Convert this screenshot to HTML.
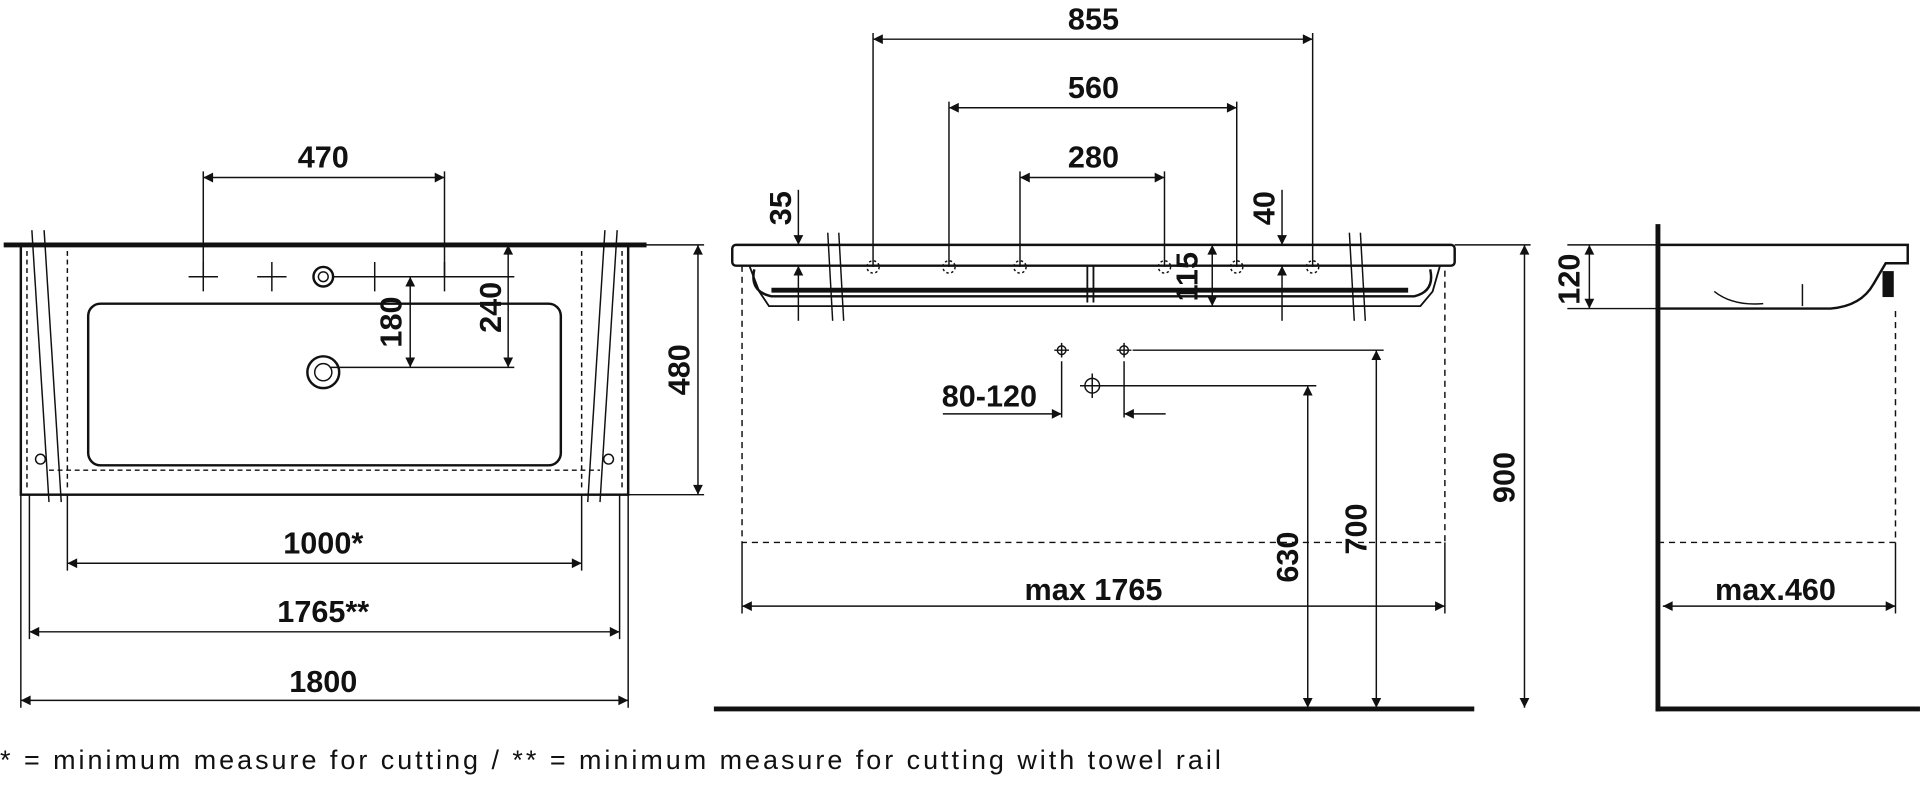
<!DOCTYPE html>
<html><head><meta charset="utf-8"><style>
html,body{margin:0;padding:0;background:#fff;width:1920px;height:791px;overflow:hidden}
svg{display:block}
text{font-family:"Liberation Sans",sans-serif;font-weight:bold;font-size:25px;fill:#111}
</style></head><body>
<svg width="1920" height="791" viewBox="0 0 1568 646" xmlns="http://www.w3.org/2000/svg">
<defs>
<marker id="a" viewBox="0 0 10 10" refX="10" refY="5" markerWidth="16" markerHeight="8" markerUnits="userSpaceOnUse" orient="auto-start-reverse"><path d="M0,0L10,5L0,10z" fill="#111"/></marker>
</defs>
<g stroke="#111" fill="none" stroke-width="1.2">
<line x1="3" y1="200" x2="528" y2="200" stroke-width="4"/>
<rect x="17" y="200" width="496" height="204" stroke-width="2"/>
<g stroke-dasharray="4,3">
<line x1="55" y1="205" x2="55" y2="400"/><line x1="475" y1="205" x2="475" y2="400"/>
<line x1="40" y1="384" x2="490" y2="384"/><line x1="22" y1="205" x2="22" y2="400"/><line x1="508" y1="205" x2="508" y2="400"/>
</g>
<rect x="72" y="248" width="386" height="132" rx="10" stroke-width="2"/>
<line x1="26" y1="188" x2="40" y2="410"/><line x1="36" y1="188" x2="50" y2="410"/>
<line x1="494" y1="188" x2="480" y2="410"/><line x1="504" y1="188" x2="490" y2="410"/>
<circle cx="33" cy="375" r="4"/><circle cx="497" cy="375" r="4"/>
<path d="M154,226h24M166,214v24M210,226h24M222,214v24M294,226h24M306,214v24M351,226h24M363,214v24"/>
<circle cx="264" cy="226" r="8" stroke-width="2"/><circle cx="264" cy="226" r="4"/>
<circle cx="264" cy="304" r="13" stroke-width="2"/><circle cx="264" cy="304" r="7"/>
<path d="M166,140v86M363,140v86"/>
<line x1="166" y1="145" x2="363" y2="145" marker-start="url(#a)" marker-end="url(#a)"/>
<path d="M272,226h148M270,300h150"/>
<line x1="335" y1="226" x2="335" y2="300" marker-start="url(#a)" marker-end="url(#a)"/>
<line x1="415" y1="200" x2="415" y2="300" marker-start="url(#a)" marker-end="url(#a)"/>
<path d="M513,200h62M513,404h62"/>
<line x1="570" y1="200" x2="570" y2="404" marker-start="url(#a)" marker-end="url(#a)"/>
<path d="M55,404v62M475,404v62M24,404v118M506,404v118M17,404v174M513,404v174"/>
<line x1="55" y1="460" x2="475" y2="460" marker-start="url(#a)" marker-end="url(#a)"/>
<line x1="24" y1="516" x2="506" y2="516" marker-start="url(#a)" marker-end="url(#a)"/>
<line x1="17" y1="572" x2="513" y2="572" marker-start="url(#a)" marker-end="url(#a)"/>
<rect x="598" y="200" width="590" height="17" rx="3" stroke-width="2"/>
<path d="M612,217 L620,238 L628,250 L1160,250 L1170,238 L1176,217" stroke-width="1.5"/>
<path d="M616,220 Q612,238 630,242 L1155,242 Q1172,238 1168,220" stroke-width="2"/>
<line x1="630" y1="237" x2="1150" y2="237" stroke-width="4"/>
<path d="M606,217V443H1180V217" stroke-dasharray="5,4"/>
<path d="M888,217v30M893,217v30" stroke-width="1.5"/>
<line x1="676" y1="190" x2="680" y2="262"/><line x1="685" y1="190" x2="689" y2="262"/>
<line x1="1102" y1="190" x2="1106" y2="262"/><line x1="1111" y1="190" x2="1115" y2="262"/>
<g stroke-dasharray="2,2">
<circle cx="713" cy="218" r="5"/><circle cx="775" cy="218" r="5"/><circle cx="833" cy="218" r="5"/><circle cx="951" cy="218" r="5"/><circle cx="1010" cy="218" r="5"/><circle cx="1072" cy="218" r="5"/>
</g>
<path d="M713,27v191M1072,27v191M775,83v135M1010,83v135M833,140v78M951,140v78"/>
<line x1="713" y1="32" x2="1072" y2="32" marker-start="url(#a)" marker-end="url(#a)"/>
<line x1="775" y1="88" x2="1010" y2="88" marker-start="url(#a)" marker-end="url(#a)"/>
<line x1="833" y1="145" x2="951" y2="145" marker-start="url(#a)" marker-end="url(#a)"/>
<line x1="652" y1="155" x2="652" y2="200" marker-end="url(#a)"/>
<line x1="652" y1="262" x2="652" y2="217" marker-end="url(#a)"/>
<line x1="1047" y1="155" x2="1047" y2="200" marker-end="url(#a)"/>
<line x1="1047" y1="262" x2="1047" y2="217" marker-end="url(#a)"/>
<line x1="990" y1="200" x2="990" y2="250" marker-start="url(#a)" marker-end="url(#a)"/>
<path d="M1188,200h62"/>
<circle cx="867" cy="286" r="3.5"/><path d="M861,286h12M867,280v12"/>
<circle cx="918" cy="286" r="3.5"/><path d="M912,286h12M918,280v12"/>
<circle cx="892" cy="315" r="6"/><path d="M882,315h20M892,305v20"/>
<path d="M867,295v46M918,295v46M925,286h205M900,315h175"/>
<line x1="770" y1="338" x2="867" y2="338" marker-end="url(#a)"/>
<line x1="952" y1="338" x2="918" y2="338" marker-end="url(#a)"/>
<line x1="1068" y1="578" x2="1068" y2="315" marker-start="url(#a)" marker-end="url(#a)"/>
<line x1="1124" y1="578" x2="1124" y2="286" marker-start="url(#a)" marker-end="url(#a)"/>
<line x1="1245" y1="578" x2="1245" y2="200" marker-start="url(#a)" marker-end="url(#a)"/>
<path d="M606,443v58M1180,443v58"/>
<line x1="606" y1="495" x2="1180" y2="495" marker-start="url(#a)" marker-end="url(#a)"/>
<line x1="583" y1="579" x2="1204" y2="579" stroke-width="4"/>
<line x1="1354" y1="183" x2="1354" y2="581" stroke-width="4"/>
<line x1="1352" y1="579" x2="1568" y2="579" stroke-width="4"/>
<path d="M1356,200H1558V215H1540L1530,232Q1520,250 1495,252H1356" stroke-width="2"/>
<rect x="1538" y="222" width="8" height="20" fill="#111"/>
<path d="M1400,238Q1415,250 1440,248M1472,232v18" />
<path d="M1280,200h80M1280,252h80"/>
<line x1="1298" y1="200" x2="1298" y2="252" marker-start="url(#a)" marker-end="url(#a)"/>
<path d="M1354,443H1548V250" stroke-dasharray="5,4"/>
<path d="M1548,443v58"/>
<line x1="1358" y1="495" x2="1548" y2="495" marker-start="url(#a)" marker-end="url(#a)"/>
</g>
<g text-anchor="middle">
<text x="264" y="137">470</text>
<text x="264" y="452">1000*</text>
<text x="264" y="508">1765**</text>
<text x="264" y="565">1800</text>
<text x="893" y="24">855</text>
<text x="893" y="80">560</text>
<text x="893" y="137">280</text>
<text x="808" y="332">80-120</text>
<text x="893" y="490">max 1765</text>
<text x="1450" y="490">max.460</text>
<text transform="translate(328,263) rotate(-90)">180</text>
<text transform="translate(409,251) rotate(-90)">240</text>
<text transform="translate(563,302) rotate(-90)">480</text>
<text transform="translate(646,170) rotate(-90)">35</text>
<text transform="translate(1041,170) rotate(-90)">40</text>
<text transform="translate(978,226) rotate(-90)">115</text>
<text transform="translate(1060,455) rotate(-90)">630</text>
<text transform="translate(1116,432) rotate(-90)">700</text>
<text transform="translate(1237,390) rotate(-90)">900</text>
<text transform="translate(1290,228) rotate(-90)">120</text>
</g>
<text x="0" y="628" textLength="997" lengthAdjust="spacing" style="font-weight:normal;font-size:22px">* = minimum measure for cutting / ** = minimum measure for cutting with towel rail</text>
</svg>
</body></html>
